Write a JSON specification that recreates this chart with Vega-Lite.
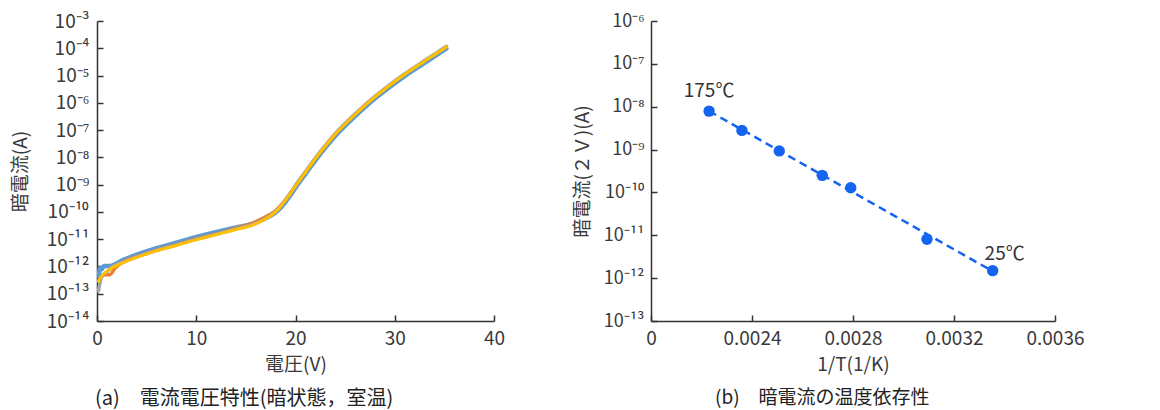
{
  "$schema": "https://vega.github.io/schema/vega-lite/v6.json",
  "background": "white",
  "padding": {"left": 11, "top": 12, "right": 5, "bottom": 5},
  "spacing": 157,
  "bounds": "flush",
  "config": {
    "font": "Noto Sans CJK JP",
    "view": {"stroke": null},
    "axis": {
      "grid": false,
      "domainColor": "#333333",
      "domainWidth": 1.5,
      "tickColor": "#333333",
      "tickWidth": 1.5,
      "tickSize": -6,
      "labelColor": "#3a3a3a",
      "titleColor": "#3a3a3a",
      "titleFontWeight": "normal",
      "labelFont": "Noto Sans CJK JP",
      "titleFont": "Noto Sans CJK JP",
      "labelOverlap": false,
      "labelFlush": false
    },
    "title": {"font": "Noto Sans CJK JP", "fontWeight": "normal", "color": "#222222", "fontSize": 20}
  },
  "datasets": {
    "iv": [
      {"s": "blue", "v": 0.2, "i": 4.47e-13},
      {"s": "blue", "v": 0.3, "i": 8.91e-13},
      {"s": "blue", "v": 0.5, "i": 7.94e-13},
      {"s": "blue", "v": 0.7, "i": 1.05e-12},
      {"s": "blue", "v": 1.3, "i": 1.05e-12},
      {"s": "blue", "v": 2.65, "i": 1.74e-12},
      {"s": "blue", "v": 4, "i": 2.69e-12},
      {"s": "blue", "v": 6, "i": 4.68e-12},
      {"s": "blue", "v": 8, "i": 7.41e-12},
      {"s": "blue", "v": 9.4, "i": 1.05e-11},
      {"s": "blue", "v": 11, "i": 1.48e-11},
      {"s": "blue", "v": 12.7, "i": 2.09e-11},
      {"s": "blue", "v": 14, "i": 2.69e-11},
      {"s": "blue", "v": 15.4, "i": 3.47e-11},
      {"s": "blue", "v": 16.9, "i": 5.62e-11},
      {"s": "blue", "v": 17.4, "i": 6.9e-11},
      {"s": "blue", "v": 18.0, "i": 9.5e-11},
      {"s": "blue", "v": 18.5, "i": 1.41e-10},
      {"s": "blue", "v": 19.0, "i": 2.34e-10},
      {"s": "blue", "v": 19.5, "i": 4.17e-10},
      {"s": "blue", "v": 20.1, "i": 8.7e-10},
      {"s": "blue", "v": 21.1, "i": 2.75e-9},
      {"s": "blue", "v": 22.1, "i": 8.7e-9},
      {"s": "blue", "v": 23.2, "i": 2.75e-8},
      {"s": "blue", "v": 24.4, "i": 8.7e-8},
      {"s": "blue", "v": 25.8, "i": 2.75e-7},
      {"s": "blue", "v": 27.3, "i": 8.7e-7},
      {"s": "blue", "v": 29.0, "i": 2.75e-6},
      {"s": "blue", "v": 30.85, "i": 8.7e-6},
      {"s": "blue", "v": 32.9, "i": 2.75e-5},
      {"s": "blue", "v": 35.0, "i": 8.7e-5},
      {"s": "blue", "v": 35.2, "i": 9.7e-5},
      {"s": "orange", "v": 0.2, "i": 3.16e-13},
      {"s": "orange", "v": 0.8, "i": 5.01e-13},
      {"s": "orange", "v": 1.3, "i": 5.0e-13},
      {"s": "orange", "v": 1.8, "i": 8.5e-13},
      {"s": "orange", "v": 2.65, "i": 1.48e-12},
      {"s": "orange", "v": 4, "i": 2.29e-12},
      {"s": "orange", "v": 6, "i": 3.98e-12},
      {"s": "orange", "v": 8, "i": 6.31e-12},
      {"s": "orange", "v": 9.4, "i": 8.91e-12},
      {"s": "orange", "v": 11, "i": 1.26e-11},
      {"s": "orange", "v": 12.7, "i": 1.82e-11},
      {"s": "orange", "v": 14, "i": 2.51e-11},
      {"s": "orange", "v": 15.4, "i": 3.55e-11},
      {"s": "orange", "v": 16.9, "i": 6.31e-11},
      {"s": "orange", "v": 17.4, "i": 8.0e-11},
      {"s": "orange", "v": 18.0, "i": 1.12e-10},
      {"s": "orange", "v": 18.5, "i": 1.7e-10},
      {"s": "orange", "v": 19.0, "i": 2.77e-10},
      {"s": "orange", "v": 19.5, "i": 4.93e-10},
      {"s": "orange", "v": 20.1, "i": 1.03e-9},
      {"s": "orange", "v": 21.1, "i": 3.25e-9},
      {"s": "orange", "v": 22.1, "i": 1.03e-8},
      {"s": "orange", "v": 23.2, "i": 3.25e-8},
      {"s": "orange", "v": 24.4, "i": 1.03e-7},
      {"s": "orange", "v": 25.8, "i": 3.25e-7},
      {"s": "orange", "v": 27.3, "i": 1.03e-6},
      {"s": "orange", "v": 29.0, "i": 3.25e-6},
      {"s": "orange", "v": 30.85, "i": 1.03e-5},
      {"s": "orange", "v": 32.9, "i": 3.25e-5},
      {"s": "orange", "v": 35.0, "i": 1.03e-4},
      {"s": "orange", "v": 35.2, "i": 1.15e-4},
      {"s": "gray", "v": 0.15, "i": 1.26e-13},
      {"s": "gray", "v": 0.25, "i": 2.0e-13},
      {"s": "gray", "v": 0.5, "i": 4.47e-13},
      {"s": "gray", "v": 1.0, "i": 6.31e-13},
      {"s": "gray", "v": 1.3, "i": 8.3e-13},
      {"s": "gray", "v": 2.65, "i": 1.45e-12},
      {"s": "gray", "v": 4, "i": 2.25e-12},
      {"s": "gray", "v": 6, "i": 3.9e-12},
      {"s": "gray", "v": 8, "i": 6.2e-12},
      {"s": "gray", "v": 9.4, "i": 8.7e-12},
      {"s": "gray", "v": 11, "i": 1.23e-11},
      {"s": "gray", "v": 12.7, "i": 1.78e-11},
      {"s": "gray", "v": 14, "i": 2.35e-11},
      {"s": "gray", "v": 15.4, "i": 3.17e-11},
      {"s": "gray", "v": 16.9, "i": 5.5e-11},
      {"s": "gray", "v": 17.4, "i": 7.1e-11},
      {"s": "gray", "v": 18.0, "i": 1.05e-10},
      {"s": "gray", "v": 18.5, "i": 1.66e-10},
      {"s": "gray", "v": 19.0, "i": 2.82e-10},
      {"s": "gray", "v": 19.5, "i": 5.0e-10},
      {"s": "gray", "v": 20.1, "i": 1.05e-9},
      {"s": "gray", "v": 21.1, "i": 3.32e-9},
      {"s": "gray", "v": 22.1, "i": 1.05e-8},
      {"s": "gray", "v": 23.2, "i": 3.32e-8},
      {"s": "gray", "v": 24.4, "i": 1.05e-7},
      {"s": "gray", "v": 25.8, "i": 3.32e-7},
      {"s": "gray", "v": 27.3, "i": 1.05e-6},
      {"s": "gray", "v": 29.0, "i": 3.32e-6},
      {"s": "gray", "v": 30.85, "i": 1.05e-5},
      {"s": "gray", "v": 32.9, "i": 3.32e-5},
      {"s": "gray", "v": 35.0, "i": 1.05e-4},
      {"s": "gray", "v": 35.2, "i": 1.18e-4},
      {"s": "yellow", "v": 0.15, "i": 2.82e-13},
      {"s": "yellow", "v": 0.3, "i": 3.55e-13},
      {"s": "yellow", "v": 0.6, "i": 5.01e-13},
      {"s": "yellow", "v": 1.3, "i": 7.94e-13},
      {"s": "yellow", "v": 2.65, "i": 1.38e-12},
      {"s": "yellow", "v": 4, "i": 2.14e-12},
      {"s": "yellow", "v": 6, "i": 3.72e-12},
      {"s": "yellow", "v": 8, "i": 5.89e-12},
      {"s": "yellow", "v": 9.4, "i": 8.32e-12},
      {"s": "yellow", "v": 11, "i": 1.17e-11},
      {"s": "yellow", "v": 12.7, "i": 1.70e-11},
      {"s": "yellow", "v": 14, "i": 2.24e-11},
      {"s": "yellow", "v": 15.4, "i": 3.02e-11},
      {"s": "yellow", "v": 16.9, "i": 5.25e-11},
      {"s": "yellow", "v": 17.4, "i": 6.76e-11},
      {"s": "yellow", "v": 18.0, "i": 1.0e-10},
      {"s": "yellow", "v": 18.5, "i": 1.585e-10},
      {"s": "yellow", "v": 19.0, "i": 2.69e-10},
      {"s": "yellow", "v": 19.5, "i": 4.79e-10},
      {"s": "yellow", "v": 20.1, "i": 1.0e-9},
      {"s": "yellow", "v": 21.1, "i": 3.16e-9},
      {"s": "yellow", "v": 22.1, "i": 1.0e-8},
      {"s": "yellow", "v": 23.2, "i": 3.16e-8},
      {"s": "yellow", "v": 24.4, "i": 1.0e-7},
      {"s": "yellow", "v": 25.8, "i": 3.16e-7},
      {"s": "yellow", "v": 27.3, "i": 1.0e-6},
      {"s": "yellow", "v": 29.0, "i": 3.16e-6},
      {"s": "yellow", "v": 30.85, "i": 1.0e-5},
      {"s": "yellow", "v": 32.9, "i": 3.16e-5},
      {"s": "yellow", "v": 35.0, "i": 1.0e-4},
      {"s": "yellow", "v": 35.2, "i": 1.12e-4}
    ],
    "pts": [
      {"x": 0.00223, "y": 7.9e-9, "t": "175℃"},
      {"x": 0.00236, "y": 2.8e-9, "t": ""},
      {"x": 0.002508, "y": 9.3e-10, "t": ""},
      {"x": 0.002678, "y": 2.5e-10, "t": ""},
      {"x": 0.002791, "y": 1.29e-10, "t": ""},
      {"x": 0.003093, "y": 8.1e-12, "t": ""},
      {"x": 0.003353, "y": 1.5e-12, "t": "25℃"}
    ],
    "fit": [
      {"x": 0.00223, "y": 7.9e-9},
      {"x": 0.003353, "y": 1.45e-12}
    ]
  },
  "hconcat": [
    {
      "width": 397,
      "height": 300,
      "data": {"name": "iv"},
      "title": {"text": "(a)　電流電圧特性(暗状態，室温)", "orient": "bottom", "anchor": "start", "frame": "group", "dx": -2, "offset": 15, "fontSize": 20},
      "encoding": {
        "x": {
          "field": "v", "type": "quantitative",
          "scale": {"domain": [0, 40], "nice": false},
          "axis": {"values": [0, 10, 20, 30, 40], "title": "電圧(V)", "labelFontSize": 19, "labelPadding": 14, "titleFontSize": 19, "titlePadding": 8, "minExtent": 26, "maxExtent": 26}
        },
        "y": {
          "field": "i", "type": "quantitative",
          "scale": {"type": "log", "domain": [1e-14, 1e-3], "nice": false},
          "axis": {
            "values": [1e-14, 1e-13, 1e-12, 1e-11, 1e-10, 1e-9, 1e-8, 1e-7, 1e-6, 1e-5, 1e-4, 1e-3],
            "labelExpr": "'10⁻' + (round(-log(datum.value)/LN10) >= 10 ? '¹' : '') + substring('⁰¹²³⁴⁵⁶⁷⁸⁹', round(-log(datum.value)/LN10) % 10, round(-log(datum.value)/LN10) % 10 + 1)",
            "title": "暗電流(A)", "labelFontSize": 19, "labelPadding": 14, "minExtent": 60, "maxExtent": 60, "titlePadding": 7, "titleFontSize": 19
          }
        }
      },
      "layer": [
        {"transform": [{"filter": "datum.s == 'blue'"}], "mark": {"type": "line", "color": "#5b9bd5", "strokeWidth": 4.5, "interpolate": "monotone", "strokeCap": "round", "strokeJoin": "round"}},
        {"transform": [{"filter": "datum.s == 'orange'"}], "mark": {"type": "line", "color": "#ed7d31", "strokeWidth": 3.5, "interpolate": "monotone", "strokeCap": "round", "strokeJoin": "round"}},
        {"transform": [{"filter": "datum.s == 'gray'"}], "mark": {"type": "line", "color": "#a5a5a5", "strokeWidth": 3.5, "interpolate": "monotone", "strokeCap": "round", "strokeJoin": "round"}},
        {"transform": [{"filter": "datum.s == 'yellow'"}], "mark": {"type": "line", "color": "#ffc000", "strokeWidth": 3, "interpolate": "monotone", "strokeCap": "round", "strokeJoin": "round"}}
      ]
    },
    {
      "width": 404,
      "height": 300,
      "title": {"text": "(b)　暗電流の温度依存性", "orient": "bottom", "anchor": "start", "frame": "group", "dx": 64, "offset": 15, "fontSize": 19},
      "encoding": {
        "x": {
          "field": "x", "type": "quantitative",
          "scale": {"domain": [0.002, 0.0036], "nice": false, "zero": false},
          "axis": {"values": [0.002, 0.0024, 0.0028, 0.0032, 0.0036], "labelExpr": "datum.value < 0.0021 ? '0' : format(datum.value, '.4f')", "title": "1/T(1/K)", "labelFontSize": 19, "labelPadding": 14, "titleFontSize": 19, "titlePadding": 8, "minExtent": 26, "maxExtent": 26}
        },
        "y": {
          "field": "y", "type": "quantitative",
          "scale": {"type": "log", "domain": [1e-13, 1e-6], "nice": false},
          "axis": {
            "values": [1e-13, 1e-12, 1e-11, 1e-10, 1e-9, 1e-8, 1e-7, 1e-6],
            "labelExpr": "'10⁻' + (round(-log(datum.value)/LN10) >= 10 ? '¹' : '') + substring('⁰¹²³⁴⁵⁶⁷⁸⁹', round(-log(datum.value)/LN10) % 10, round(-log(datum.value)/LN10) % 10 + 1)",
            "title": "暗電流(２Ｖ)(A)", "labelFontSize": 18, "labelPadding": 13, "minExtent": 54, "maxExtent": 54, "titlePadding": 5, "titleFontSize": 19
          }
        }
      },
      "layer": [
        {"data": {"name": "fit"}, "mark": {"type": "line", "color": "#1464f0", "strokeWidth": 2.5, "strokeDash": [8, 5]}},
        {"data": {"name": "pts"}, "mark": {"type": "circle", "color": "#1464f0", "size": 130, "opacity": 1}},
        {"data": {"name": "pts"}, "transform": [{"filter": "datum.t == '175℃'"}], "mark": {"type": "text", "dy": -20, "fontSize": 19, "color": "#333333"}, "encoding": {"text": {"field": "t"}}},
        {"data": {"name": "pts"}, "transform": [{"filter": "datum.t == '25℃'"}], "mark": {"type": "text", "dx": 12, "dy": -17, "fontSize": 19, "color": "#333333"}, "encoding": {"text": {"field": "t"}}}
      ]
    }
  ]
}
